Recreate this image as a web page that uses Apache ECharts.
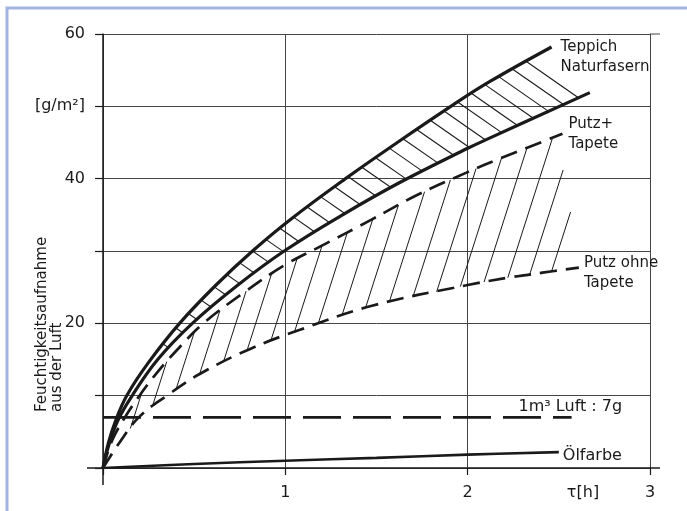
<!DOCTYPE html>
<html><head><meta charset="utf-8">
<script src="https://cdn.jsdelivr.net/npm/echarts@6/dist/echarts.min.js"></script>
<style>html,body{margin:0;padding:0;background:#fff}#c{width:687px;height:511px}</style>
</head><body><div id="c"></div>
<script>
// ---- axis ticks / labels ----
const xTicks = [0, 1, 2, 3];
const xTickLabels = ['', '1', '2', '3'];
const xAxisTitle = 'τ[h]';
const yTicks = [0, 10, 20, 30, 40, 50, 60];
const yTickLabels = ['', '', '20', '', '40', '[g/m²]', '60'];
const yAxisTitle = 'Feuchtigkeitsaufnahme\naus der Luft';

// ---- curves [τ (h), g/m²] ----
const teppichOben = [[0,0],[0.03,3.5],[0.07,6.6],[0.13,10],[0.25,14.6],[0.42,20],[0.62,25.3],[0.82,30],[1.03,34.4],[1.33,40],[1.62,45.1],[1.92,50.2],[2.12,53.4],[2.46,58.2]];
const teppichUnten = [[0,0],[0.03,3],[0.08,6.5],[0.16,10],[0.3,15],[0.49,20],[0.74,25.3],[1.0,30.1],[1.3,34.8],[1.63,39.5],[2.0,44.2],[2.12,45.6],[2.67,51.9]];
const putzTapete = [[0,0],[0.05,3.8],[0.12,7],[0.2,10],[0.3,13.3],[0.42,16.7],[0.55,20],[0.77,24.2],[1.0,28.1],[1.19,30.6],[1.47,34.3],[1.72,37.7],[1.99,40.8],[2.12,42.2],[2.52,46.2]];
const putzOhne = [[0,0],[0.09,3.5],[0.2,7.1],[0.35,10],[0.53,13],[0.81,16.5],[1.08,19.1],[1.47,22.4],[2.0,25.3],[2.22,26.3],[2.41,27.0],[2.61,27.7]];
const oelfarbe = [[0,0],[0.5,0.55],[1,1.0],[1.5,1.4],[2,1.85],[2.5,2.2]];
const luft = [[0,7],[2.57,7]];

// ---- labels ----
const labelTeppich = 'Teppich\nNaturfasern';
const labelPutzTapete = 'Putz+\nTapete';
const labelPutzOhne = 'Putz ohne\nTapete';
const labelLuft = '1m³ Luft : 7g';
const labelOel = 'Ölfarbe';

// ---- hatching (start τ on the curve) ----
const hatchTeppichX = [0.33,0.40,0.47,0.54,0.61,0.68,0.75,0.82,0.895,0.97,1.045,1.12,1.195,1.27,1.345,1.42,1.495,1.57,1.645,1.72,1.795,1.87,1.945,2.02,2.095,2.17,2.245,2.32,2.40];
const hatchPutzX = [0.15,0.27,0.40,0.53,0.66,0.79,0.92,1.05,1.18,1.31,1.44,1.57,1.70,1.83,1.96,2.09,2.22,2.34,2.46];
const hatchPutzTop = [null,null,null,null,null,null,null,null,null,null,null,null,null,null,null,null,null,41.2,35.4];

function interpY(arr, x) {
  for (let i = 0; i < arr.length - 1; i++) {
    const a = arr[i], b = arr[i + 1];
    if (x >= a[0] && x <= b[0]) return a[1] + (b[1] - a[1]) * (x - a[0]) / (b[0] - a[0]);
  }
  return arr[arr.length - 1][1];
}
function rayHit(P, d, poly) {
  let best = null;
  for (let i = 0; i < poly.length - 1; i++) {
    const A = poly[i], B = poly[i + 1];
    const ex = B[0] - A[0], ey = B[1] - A[1];
    const den = d[0] * ey - d[1] * ex;
    if (Math.abs(den) < 1e-9) continue;
    const wx = A[0] - P[0], wy = A[1] - P[1];
    const s = (wx * ey - wy * ex) / den;
    const u = (wx * d[1] - wy * d[0]) / den;
    if (s > 0.5 && u >= 0 && u <= 1 && (best === null || s < best)) best = s;
  }
  return best;
}

const INK = '#1a1a1a';
const FONT = 'DejaVu Sans';
const chart = echarts.init(document.getElementById('c'));

function pick(ticks, labels) {
  return v => { const i = ticks.indexOf(Math.round(v * 1000) / 1000); return i < 0 ? '' : labels[i]; };
}
function endLbl(text, extra) {
  return Object.assign({ show: true, formatter: text, color: INK, fontFamily: FONT, fontSize: 15, lineHeight: 20, align: 'left' }, extra);
}

chart.setOption({
  animation: false,
  backgroundColor: '#ffffff',
  grid: { left: 103, right: 37, top: 34, bottom: 43 },
  xAxis: {
    type: 'value', min: 0, max: 3, interval: 1,
    axisLine: { show: true, lineStyle: { color: INK, width: 1.5 } },
    axisTick: { show: true, length: 7, lineStyle: { color: INK, width: 1.2 } },
    splitLine: { show: true, lineStyle: { color: '#444', width: 1 } },
    axisLabel: { formatter: pick(xTicks, xTickLabels), margin: 17, fontSize: 16, color: INK, fontFamily: FONT },
    name: xAxisTitle, nameLocation: 'end', nameGap: -67,
    nameTextStyle: { fontSize: 16, color: INK, fontFamily: FONT, align: 'center', verticalAlign: 'top', padding: [17, 0, 0, 0] }
  },
  yAxis: {
    type: 'value', min: 0, max: 60, interval: 10,
    axisLine: { show: true, lineStyle: { color: INK, width: 1.5 } },
    axisTick: { show: true, length: 8, lineStyle: { color: INK, width: 1.2 } },
    splitLine: { show: true, lineStyle: { color: '#444', width: 1 } },
    axisLabel: { formatter: pick(yTicks, yTickLabels), margin: 18, fontSize: 16, color: INK, fontFamily: FONT }
  },
  graphic: [
    { type: 'rect', shape: { x: 7, y: 8, width: 720, height: 540 }, style: { fill: 'none', stroke: '#a4b4e2', lineWidth: 3 }, silent: true },
    { type: 'text', x: 50, y: 412, rotation: Math.PI / 2,
      style: { text: yAxisTitle, fill: INK, font: '15px "DejaVu Sans"', textAlign: 'left', textVerticalAlign: 'middle', lineHeight: 15 } }
  ],
  series: [
    { type: 'custom', silent: true, z: 1, data: [[0, 0]],
      renderItem: (p, api) => {
        const o = api.coord([0, 0]), r = api.coord([3, 0]), t = api.coord([3, 60]);
        const st = { stroke: INK, lineWidth: 1.5 };
        return { type: 'group', children: [
          { type: 'line', shape: { x1: o[0], y1: o[1], x2: o[0], y2: o[1] + 17 }, style: st },
          { type: 'line', shape: { x1: o[0] - 16, y1: o[1], x2: o[0], y2: o[1] }, style: st },
          { type: 'line', shape: { x1: r[0], y1: r[1], x2: r[0] + 10, y2: r[1] }, style: st },
          { type: 'line', shape: { x1: t[0], y1: t[1], x2: t[0] + 10, y2: t[1] }, style: { stroke: '#444', lineWidth: 1 } }
        ] };
      } },
    { type: 'custom', silent: true, z: 2,
      data: hatchTeppichX.map(x => [x, interpY(teppichOben, x)]),
      renderItem: (p, api) => {
        const P = api.coord([api.value(0), api.value(1)]);
        const poly = teppichUnten.map(q => api.coord(q));
        const d = [0.82, 0.57];
        const s = rayHit(P, d, poly);
        if (s === null) return null;
        return { type: 'line', shape: { x1: P[0], y1: P[1], x2: P[0] + d[0] * s, y2: P[1] + d[1] * s }, style: { stroke: INK, lineWidth: 1.1 } };
      } },
    { type: 'custom', silent: true, z: 2,
      data: hatchPutzX.map((x, i) => [x, interpY(putzOhne, x), hatchPutzTop[i] === null ? -1 : hatchPutzTop[i]]),
      renderItem: (p, api) => {
        const P = api.coord([api.value(0), api.value(1)]);
        const poly = putzTapete.map(q => api.coord(q));
        const n = Math.hypot(0.32, 1);
        const d = [0.32 / n, -1 / n];
        let s = rayHit(P, d, poly);
        const top = api.value(2);
        if (top >= 0) {
          const ty = api.coord([0, top])[1];
          const sc = (P[1] - ty) / (-d[1]);
          s = (s === null) ? sc : Math.min(s, sc);
        }
        if (s === null) return null;
        return { type: 'line', shape: { x1: P[0], y1: P[1], x2: P[0] + d[0] * s, y2: P[1] + d[1] * s }, style: { stroke: INK, lineWidth: 1 } };
      } },
    { name: 'Teppich oben', type: 'line', data: teppichOben, smooth: 0.4, symbol: 'none', z: 5,
      lineStyle: { color: INK, width: 3.2 },
      endLabel: endLbl(labelTeppich, { distance: 9, verticalAlign: 'top', offset: [0, -10] }) },
    { name: 'Teppich unten', type: 'line', data: teppichUnten, smooth: 0.4, symbol: 'none', z: 5,
      lineStyle: { color: INK, width: 3.2 } },
    { name: 'Putz+Tapete', type: 'line', data: putzTapete, smooth: 0.4, symbol: 'none', z: 5,
      lineStyle: { color: INK, width: 2.7, type: [17, 9] },
      endLabel: endLbl(labelPutzTapete, { distance: 6, verticalAlign: 'middle', offset: [0, 0] }) },
    { name: 'Putz ohne Tapete', type: 'line', data: putzOhne, smooth: 0.4, symbol: 'none', z: 5,
      lineStyle: { color: INK, width: 2.7, type: [17, 9] },
      endLabel: endLbl(labelPutzOhne, { distance: 5, verticalAlign: 'middle', offset: [0, 5] }) },
    { name: 'Luft', type: 'line', data: luft, symbol: 'none', z: 5,
      lineStyle: { color: INK, width: 2.6, type: [38, 12] },
      endLabel: endLbl(labelLuft, { distance: 0, verticalAlign: 'bottom', offset: [-53, -1], fontSize: 16 }) },
    { name: 'Ölfarbe', type: 'line', data: oelfarbe, smooth: 0.4, symbol: 'none', z: 5,
      lineStyle: { color: INK, width: 2.6 },
      endLabel: endLbl(labelOel, { distance: 4, verticalAlign: 'middle', offset: [0, 4], fontSize: 16 }) }
  ]
});
</script>
</body></html>
